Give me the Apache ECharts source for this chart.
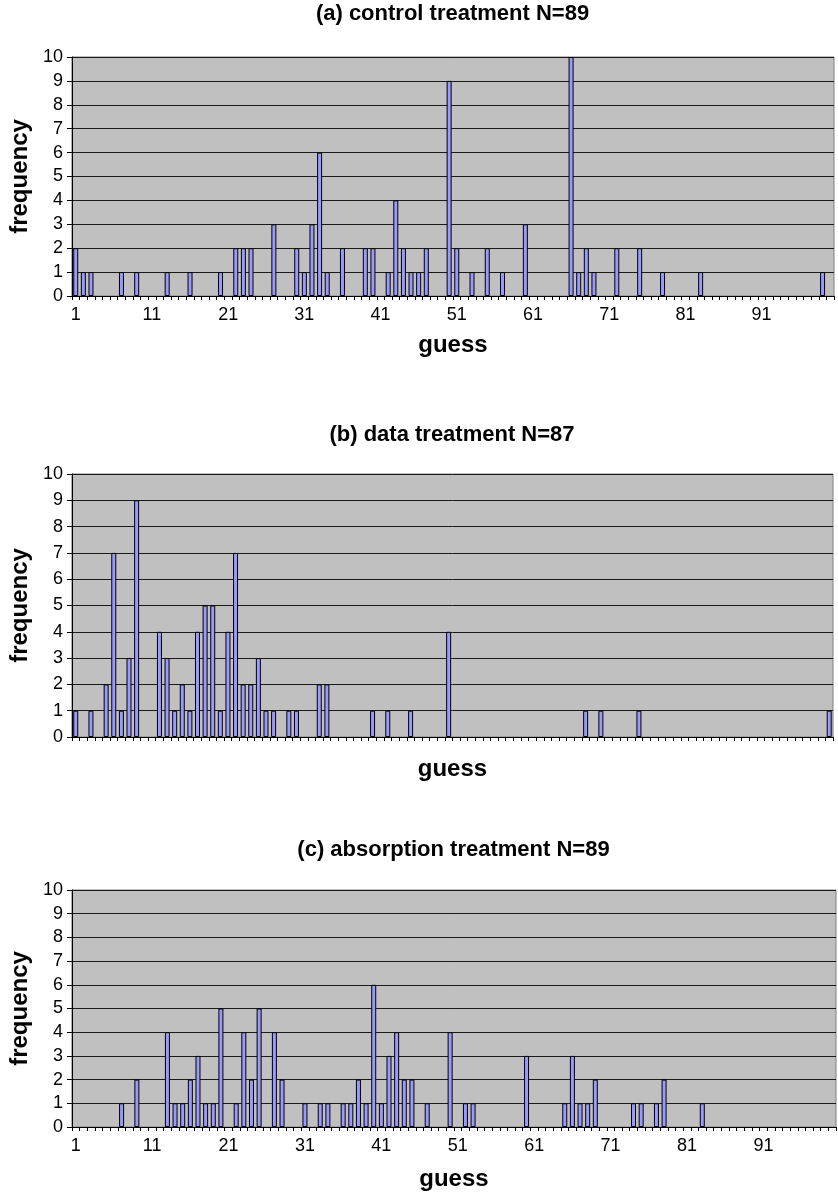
<!DOCTYPE html>
<html><head><meta charset="utf-8">
<script src="https://cdn.jsdelivr.net/npm/echarts@6/dist/echarts.min.js"></script>
<style>html,body{margin:0;padding:0;background:#fff}#c{width:838px;height:1198px}</style>
</head><body><div id="c"></div>
<script>
// categories: guesses 1..100
const guessCategories = [];
for (let g = 1; g <= 100; g++) guessCategories.push(String(g));
const yTickMin = 0, yTickMax = 10, yTickStep = 1;

const panelTitles = ['(a) control treatment N=89', '(b) data treatment N=87', '(c) absorption treatment N=89'];

// (a) control treatment
const controlGuess = [1,2,3,7,9,13,16,20,22,23,24,27,30,31,32,33,34,36,39,40,42,43,44,45,46,47,50,51,53,55,57,60,66,67,68,69,72,75,78,83,99];
const controlFreq  = [2,1,1,1,1,1,1,1,2,2,2,3,2,1,3,6,1,2,2,2,1,4,2,1,1,2,9,2,1,2,1,3,10,1,2,1,2,2,1,1,1];
// (b) data treatment
const dataGuess = [1,3,5,6,7,8,9,12,13,14,15,16,17,18,19,20,21,22,23,24,25,26,27,29,30,33,34,40,42,45,50,68,70,75,100];
const dataFreq  = [1,1,2,7,1,3,9,4,3,1,2,1,4,5,5,1,4,7,2,2,3,1,1,1,1,2,2,1,1,1,4,1,1,1,1];
// (c) absorption treatment
const absorptionGuess = [7,9,13,14,15,16,17,18,19,20,22,23,24,25,27,28,31,33,34,36,37,38,39,40,41,42,43,44,45,47,50,52,53,60,65,66,67,68,69,74,75,77,78,83];
const absorptionFreq  = [1,2,4,1,1,2,3,1,1,5,1,4,2,5,4,2,1,1,1,1,1,2,1,6,1,3,4,2,2,1,4,1,1,3,1,3,1,1,2,1,1,1,2,1];

function toSeries(gs, fs) {
  const arr = guessCategories.map(() => '-');
  gs.forEach((g, i) => { arr[guessCategories.indexOf(String(g))] = fs[i]; });
  return arr;
}
const seriesData = [toSeries(controlGuess, controlFreq), toSeries(dataGuess, dataFreq), toSeries(absorptionGuess, absorptionFreq)];

const FONT = "'Liberation Sans', Arial, sans-serif";
const grids = [
  {left: 71, top: 57, width: 763, height: 239},
  {left: 71, top: 474, width: 762, height: 263},
  {left: 71, top: 890, width: 765, height: 237}
];
const titleTops = [3, 424, 839];
const showXLabels = [true, false, true];
const guessGaps = [37, 20, 40];

const chart = echarts.init(document.getElementById('c'), null, {renderer: 'canvas'});
const option = {
  backgroundColor: '#ffffff',
  animation: false,
  title: panelTitles.map((t, i) => ({
    text: t, left: grids[i].left + grids[i].width / 2, top: titleTops[i], textAlign: 'center', padding: 0,
    textStyle: {fontFamily: FONT, fontSize: 22, fontWeight: 'bold', color: '#000'}
  })),
  grid: grids.map(g => Object.assign({show: true, backgroundColor: '#C0C0C0', borderColor: '#808080', borderWidth: 1}, g)),
  xAxis: grids.map((g, i) => ({
    type: 'category', gridIndex: i, data: guessCategories, boundaryGap: true,
    name: 'guess', nameLocation: 'middle', nameGap: guessGaps[i],
    nameTextStyle: {fontFamily: FONT, fontSize: 24, fontWeight: 'bold', color: '#000'},
    axisLine: {show: true, lineStyle: {color: '#000', width: 1}},
    axisTick: {show: true, interval: 0, length: 4, lineStyle: {color: '#000'}},
    axisLabel: {show: showXLabels[i], interval: (idx) => idx % 10 === 0, margin: 10,
      fontFamily: FONT, fontSize: 18, color: '#000'},
    splitLine: {show: false}
  })),
  yAxis: grids.map((g, i) => ({
    type: 'value', gridIndex: i, min: yTickMin, max: yTickMax, interval: yTickStep,
    name: 'frequency', nameLocation: 'middle', nameGap: 39, nameRotate: 90,
    nameTextStyle: {fontFamily: FONT, fontSize: 24, fontWeight: 'bold', color: '#000'},
    axisLine: {show: true, lineStyle: {color: '#000', width: 1}},
    axisTick: {show: true, length: 5, lineStyle: {color: '#000'}},
    axisLabel: {margin: 9, fontFamily: FONT, fontSize: 18, color: '#000'},
    splitLine: {show: true, lineStyle: {color: '#1a1a1a', width: 1}}
  })),
  series: seriesData.map((d, i) => ({
    type: 'bar', xAxisIndex: i, yAxisIndex: i, data: d, barWidth: 5,
    itemStyle: {color: '#9999FF', borderColor: '#000', borderWidth: 1}
  }))
};
chart.setOption(option);
</script></body></html>
